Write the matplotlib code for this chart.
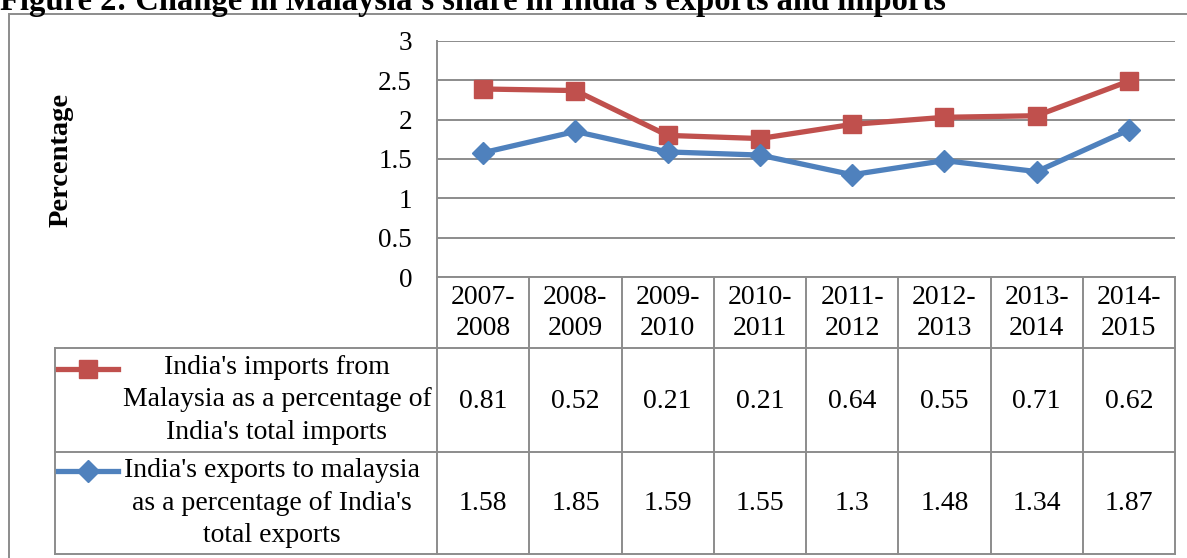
import matplotlib.pyplot as plt
from matplotlib.lines import Line2D
from matplotlib.patches import Rectangle
from matplotlib.transforms import blended_transform_factory

plt.rcParams['font.family'] = ['Liberation Serif', 'DejaVu Serif']

years = ['2007-\n2008', '2008-\n2009', '2009-\n2010', '2010-\n2011',
         '2011-\n2012', '2012-\n2013', '2013-\n2014', '2014-\n2015']
imports = [0.81, 0.52, 0.21, 0.21, 0.64, 0.55, 0.71, 0.62]
exports = [1.58, 1.85, 1.59, 1.55, 1.3, 1.48, 1.34, 1.87]
imports_label = "India's imports from\nMalaysia as a percentage of\nIndia's total imports"
exports_label = "India's exports to malaysia\nas a percentage of India's\ntotal exports"

# stacked line chart: imports sit on top of exports
stacked = [e + i for e, i in zip(exports, imports)]

W, H = 1187, 558
red = '#C0504D'
blue = '#4F81BD'
grey = '#8C8C8C'


def fy(py):
    # pixel row (from top) -> figure fraction
    return 1 - py / H


def fx(px):
    return px / W


fig = plt.figure(figsize=(W / 100, H / 100), dpi=100)
ax = fig.add_axes([fx(437), fy(277), (1175 - 437) / W, (277 - 41) / H])

x = list(range(len(years)))
ax.plot(x, stacked, color=red, lw=3.8, marker='s', ms=13, zorder=3)
ax.plot(x, exports, color=blue, lw=3.8, marker='D', ms=11.5, zorder=4)

ax.set_xlim(-0.5, len(years) - 0.5)
ax.set_ylim(0, 3)
ax.set_yticks([0, 0.5, 1, 1.5, 2, 2.5, 3])
ax.set_yticklabels(['0', '0.5', '1', '1.5', '2', '2.5', '3'])
ax.set_xticks([])
ax.tick_params(axis='y', length=0, pad=18, labelsize=19.5)
ax.grid(axis='y', color=grey, lw=1.4)
for side in ['top', 'right', 'bottom']:
    ax.spines[side].set_visible(False)
ax.spines['left'].set_color(grey)
ax.spines['left'].set_linewidth(1.4)

fig.text(fx(61), fy(160), 'Percentage', rotation=90, ha='center', va='center',
         fontsize=20.5, fontweight='bold')

# data table under the axis
tr = blended_transform_factory(ax.transData, fig.transFigure)
row_lines = [277, 348, 452, 554]
for j, py in enumerate(row_lines):
    x0 = 437 if j == 0 else 55
    fig.add_artist(Line2D([fx(x0), fx(1175)], [fy(py), fy(py)], color=grey, lw=1.4,
                          transform=fig.transFigure))
for k in range(len(years) + 1):
    fig.add_artist(Line2D([k - 0.5, k - 0.5], [fy(277), fy(554)], color=grey, lw=1.4,
                          transform=tr))
fig.add_artist(Line2D([fx(55), fx(55)], [fy(348), fy(554)], color=grey, lw=1.4,
                      transform=fig.transFigure))

for k, yr in enumerate(years):
    fig.text(k, fy(313), yr, transform=tr, ha='center', va='center',
             fontsize=20, linespacing=1.3)
    fig.text(k, fy(401), f'{imports[k]:g}', transform=tr, ha='center', va='center',
             fontsize=20)
    fig.text(k, fy(503), f'{exports[k]:g}', transform=tr, ha='center', va='center',
             fontsize=20)

fig.text(fx(277), fy(400), imports_label, ha='center', va='center', fontsize=20,
         linespacing=1.38)
fig.text(fx(272), fy(503), exports_label, ha='center', va='center', fontsize=20,
         linespacing=1.38)

# legend keys in the row headers
fig.add_artist(Line2D([fx(58), fx(88), fx(118)], [fy(369)] * 3, color=red, lw=3.8,
                      marker='s', ms=13, markevery=[1], transform=fig.transFigure))
fig.add_artist(Line2D([fx(58), fx(88), fx(118)], [fy(471)] * 3, color=blue,
                      lw=3.8, marker='D', ms=11.5, markevery=[1], transform=fig.transFigure))

# outer chart border and caption
fig.add_artist(Rectangle((fx(9), fy(600)), 1, fy(14) - fy(600), fill=False,
                         edgecolor=grey, lw=1.4, transform=fig.transFigure))
fig.text(0, fy(10), "Figure 2: Change in Malaysia's share in India's exports and imports",
         ha='left', va='baseline', fontsize=23.5, fontweight='bold')

fig.savefig('out.png', dpi=100)
